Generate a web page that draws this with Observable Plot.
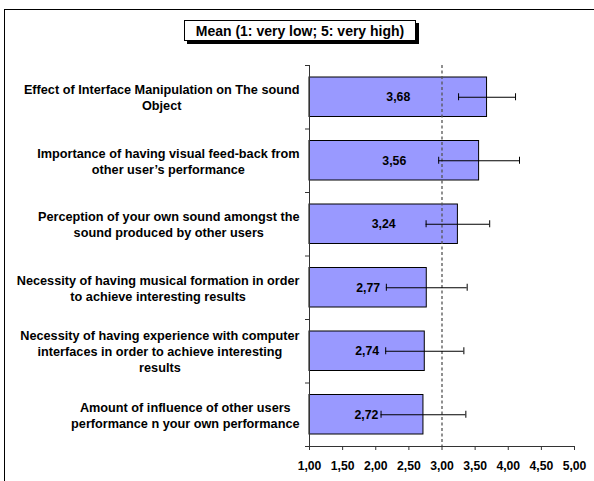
<!DOCTYPE html>
<html><head><meta charset="utf-8">
<script src="https://cdn.jsdelivr.net/npm/d3@7"></script>
<script src="https://cdn.jsdelivr.net/npm/@observablehq/plot@0.6"></script>
<style>
body{margin:0;background:#fff;}
#wrap{position:relative;width:594px;height:481px;overflow:hidden;font-family:"Liberation Sans",Arial,sans-serif;background:#fff;}
#border{position:absolute;left:4px;top:9px;width:640px;height:520px;border:1.5px solid #000;box-sizing:border-box;}
#chart{position:absolute;left:0;top:0;}
#title{position:absolute;left:184px;top:20px;width:232px;height:21px;border:1px solid #000;box-shadow:3px 3px 0 #000;background:#fff;font-weight:bold;font-size:14px;line-height:20px;text-align:center;box-sizing:border-box;color:#000;}
</style></head><body>
<div id="wrap"><div id="border"></div><div id="chart"></div><div id="title">Mean (1: very low; 5: very high)</div></div>
<script>
const categories = [
  "Effect of Interface Manipulation on The sound\nObject",
  "Importance of having visual feed-back from\nother user’s performance",
  "Perception of your own sound amongst the\nsound produced by other users",
  "Necessity of having musical formation in order\nto achieve interesting results",
  "Necessity of having experience with computer\ninterfaces in order to achieve interesting\nresults",
  "Amount of influence of other users\nperformance n your own performance"
];
const means = [3.68, 3.56, 3.24, 2.77, 2.74, 2.72];
const errors = [0.43, 0.61, 0.48, 0.61, 0.59, 0.64];
const xTicks = [1, 1.5, 2, 2.5, 3, 3.5, 4, 4.5, 5];
const midpoint = 3;
const baseline = 1;

const rows = categories.map((c, i) => ({
  c, i, mean: means[i], lo: means[i] - errors[i], hi: means[i] + errors[i],
  label: d3.format(".2f")(means[i]).replace(".", ","), mid: (baseline + means[i]) / 2
}));

const labelSize = 12.7;
const labelFont = `bold ${labelSize}px 'Liberation Sans', Arial, sans-serif`;
const ctx = document.createElement("canvas").getContext("2d");
ctx.font = labelFont;
const blockWidth = c => Math.max(...c.split("\n").map(s => ctx.measureText(s).width));

const marginLeft = 309;
const labelMarks = rows.map(r => Plot.text([r], {
  y: d => d.i + 0.5, text: "c", frameAnchor: "left", textAnchor: "middle",
  dx: -(10 + blockWidth(r.c) / 2), lineAnchor: "middle", lineHeight: 1.25,
  fontSize: labelSize, fontWeight: "bold", fill: "#000"
}));

const fmt = d => d3.format(".2f")(d).replace(".", ",");

const chart = Plot.plot({
  width: 594, height: 481,
  marginLeft, marginRight: 20, marginTop: 65, marginBottom: 35,
  style: {fontFamily: "'Liberation Sans', Arial, sans-serif", background: "transparent", overflow: "visible"},
  x: {domain: [1, 5], label: null},
  y: {domain: [0, categories.length], reverse: true, label: null},
  marks: [
    Plot.axisX({ticks: xTicks, tickFormat: fmt, tickSize: 4, tickPadding: 11, fontSize: 12.2, fontWeight: "bold", stroke: "#333", fill: "#000", label: null}),
    Plot.axisY({ticks: d3.range(categories.length + 1), tickFormat: () => "", tickSize: 4, stroke: "#333", label: null}),
    Plot.rectX(rows, {x1: baseline, x2: "mean", y1: "i", y2: d => d.i + 1, insetTop: 12, insetBottom: 12, fill: "#9999FF", stroke: "#000", strokeWidth: 1}),
    Plot.ruleX([midpoint], {stroke: "#555", strokeWidth: 1.3, strokeDasharray: "3,2.5"}),
    Plot.ruleX([baseline], {stroke: "#333", strokeWidth: 1}),
    Plot.ruleY([categories.length], {stroke: "#333", strokeWidth: 1}),
    Plot.text(rows, {x: "mid", y: d => d.i + 0.5, text: "label", fontSize: 12.3, fontWeight: "bold", fill: "#000"}),
    Plot.ruleY(rows, {x1: "lo", x2: "hi", y: d => d.i + 0.5, stroke: "#000", strokeWidth: 1}),
    Plot.ruleX(rows, {x: "lo", y1: d => d.i + 0.5, y2: d => d.i + 0.5, insetTop: -3.5, insetBottom: -3.5, stroke: "#000", strokeWidth: 1}),
    Plot.ruleX(rows, {x: "hi", y1: d => d.i + 0.5, y2: d => d.i + 0.5, insetTop: -3.5, insetBottom: -3.5, stroke: "#000", strokeWidth: 1}),
    ...labelMarks
  ]
});
document.getElementById("chart").appendChild(chart);
</script>
</body></html>
